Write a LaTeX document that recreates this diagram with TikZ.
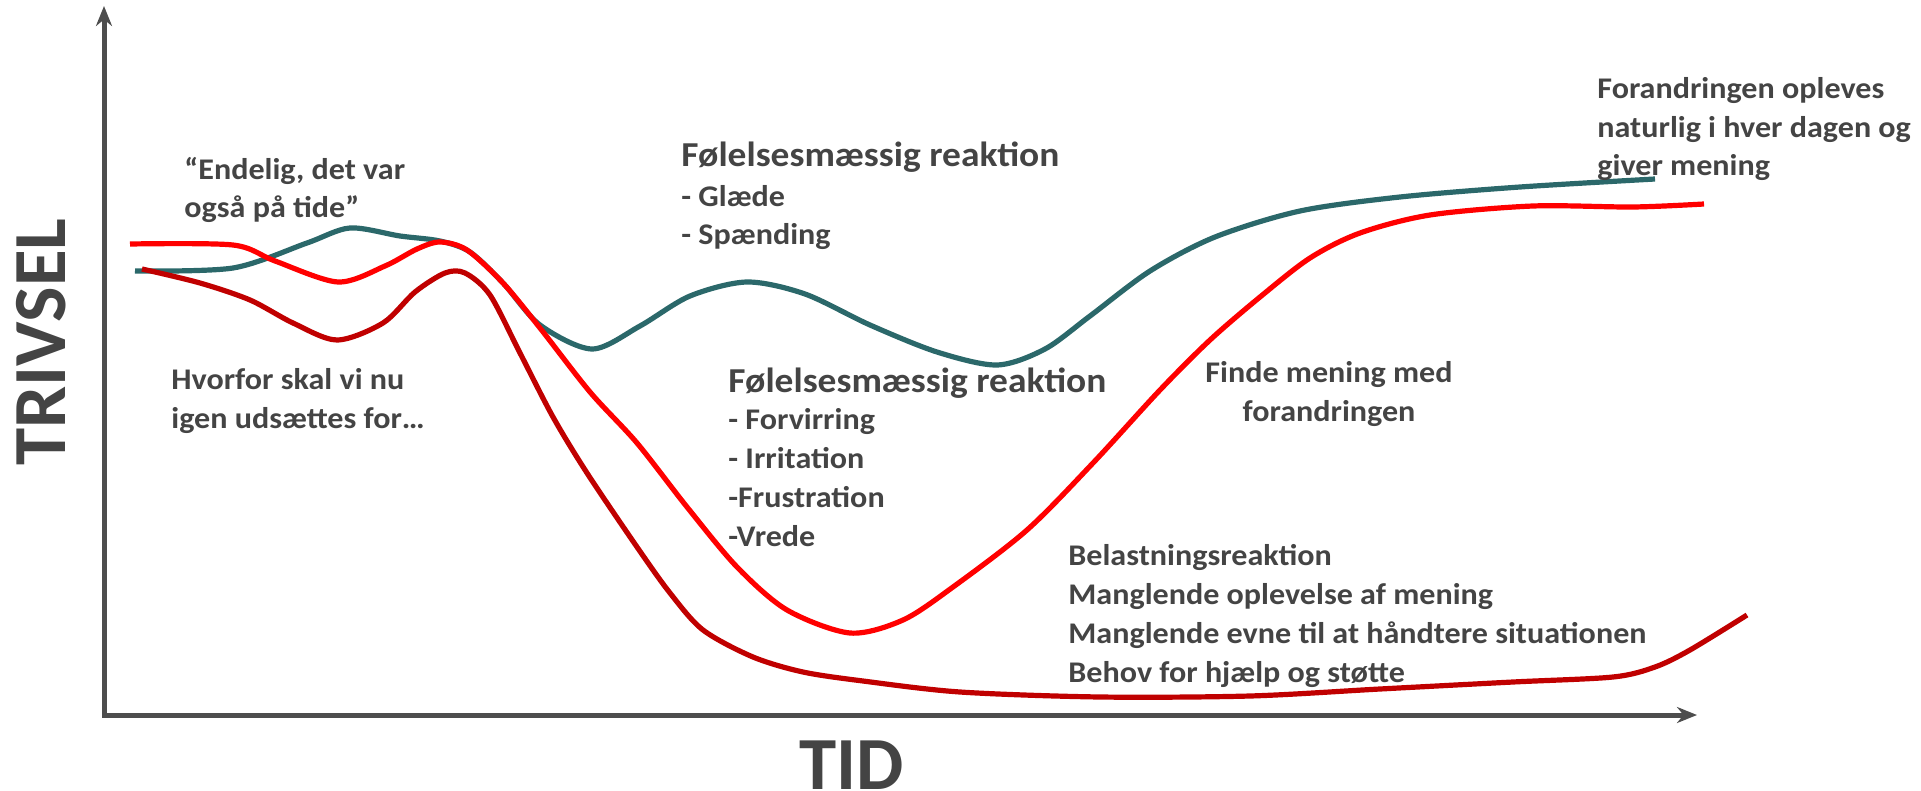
\documentclass[tikz,border=0pt]{standalone}
\usepackage{fontspec}
\usepackage{tikz}
\setmainfont{Carlito}
\newfontfamily\widefont[FakeStretch=1.07]{Carlito}
\usetikzlibrary{arrows.meta}
\definecolor{txtgray}{RGB}{68,68,68}
\definecolor{axgray}{RGB}{77,77,77}
\definecolor{tealc}{RGB}{43,104,106}
\definecolor{redc}{RGB}{255,0,0}
\definecolor{darkredc}{RGB}{192,0,0}

\begin{document}
\begin{tikzpicture}[x=0.5pt,y=-0.5pt,
  txt/.style={anchor=base west,inner sep=0pt,align=left,text=txtgray,
    font=\widefont\bfseries\fontsize{15}{19.4}\selectfont},
  head/.style={txt,font=\widefont\bfseries\fontsize{17.5}{20}\selectfont},
  big/.style={inner sep=0pt,text=txtgray,font=\bfseries\fontsize{37.5}{40}\selectfont},
  ax/.style={draw=axgray,line width=2.5pt,
    {Stealth[length=10pt,width=8pt]}-{Stealth[length=10pt,width=8pt]}},
  curve/.style={line width=2.6pt,line join=round}]
  \useasboundingbox (0,0) rectangle (1921,791);

  \coordinate (ytop) at (104,6);
  \coordinate (o) at (104,715);
  \coordinate (xend) at (1697,715);
  \draw[ax] (ytop) -- (o) -- (xend);

  \node[big,rotate=90] (trivsel) at (41,342) {TRIVSEL};
  \node[big] (tid) at (852,765) {TID};

  \draw[curve,tealc] plot[smooth] coordinates {(135,271) (233,268) (307,243)
    (350,228) (400,236) (440,241) (470,252) (503,283) (540,325) (592,349)
    (640,326) (690,296) (747,282) (805,294) (870,325) (937,352) (997,365)
    (1045,349) (1090,316) (1150,271) (1215,237) (1300,211) (1400,197)
    (1520,187) (1655,179)};
  \draw[curve,redc] plot[smooth] coordinates {(130,244) (233,245) (275,261)
    (338,282) (385,266) (417,249) (440,242) (467,250) (503,283) (540,328)
    (590,392) (637,443) (687,507) (737,567) (787,610) (850,633) (903,620)
    (953,587) (1027,530) (1093,463) (1160,390) (1210,340) (1260,297)
    (1310,258) (1360,233) (1430,215) (1533,206) (1633,207) (1704,204)};
  \draw[curve,darkredc] plot[smooth] coordinates {(142,269) (200,283)
    (250,300) (293,323) (337,340) (383,323) (415,292) (445,273) (465,273)
    (490,295) (520,353) (553,417) (587,473) (637,547) (670,593) (703,630)
    (753,657) (803,672) (863,681) (960,692) (1100,697) (1250,696) (1380,689)
    (1513,682) (1613,677) (1655,667) (1690,650) (1747,615)};

  \node[txt] (endelig) at (184,218) {“Endelig, det var\\også på tide”};
  \node[txt] (hvorfor) at (171,428) {Hvorfor skal vi nu\\igen udsættes for…};
  \node[head] (reak1) at (681,167) {Følelsesmæssig reaktion};
  \node[txt] (glaede) at (681,245) {- Glæde\\- Spænding};
  \node[head] (reak2) at (728,392) {Følelsesmæssig reaktion};
  \node[txt] (forvirring) at (728,546) {- Forvirring\\- Irritation\\-Frustration\\-Vrede};
  \node[txt,anchor=base,align=center] (finde) at (1329,421) {Finde mening med\\forandringen};
  \node[txt] (naturlig) at (1597,176) {Forandringen opleves\\naturlig i hver dagen og\\giver mening};
  \node[txt] (belast) at (1068,682) {Belastningsreaktion\\Manglende oplevelse af mening\\Manglende evne til at håndtere situationen\\Behov for hjælp og støtte};
\end{tikzpicture}
\end{document}
